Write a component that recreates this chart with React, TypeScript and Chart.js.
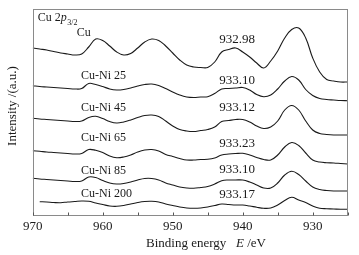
import { useEffect, useRef } from "react";
import { Chart, registerables } from "chart.js";

Chart.register(...registerables);

// Binding energy grid (eV), 970 -> 925
const energies = [
  970, 969, 968, 967, 966, 965, 964, 963, 962, 961, 960, 959, 958, 957, 956, 955,
  954, 953, 952, 951, 950, 949, 948, 947, 946, 945, 944, 943, 942, 941, 940, 939,
  938, 937, 936, 935, 934, 933, 932, 931, 930, 929, 928, 927, 926, 925,
];

// Stacked (offset) intensities, a.u.
const cu = [
  168, 167, 166, 164.5, 163, 162, 161, 162, 169, 177, 175.5, 170, 164, 161, 162.5, 168,
  174, 177, 175.5, 170, 163, 156, 151, 149, 148.5, 148.5, 154, 164, 166.5, 168, 164, 159,
  153, 148, 155, 165, 178, 186.5, 188, 178, 158, 144, 136.5, 135, 134, 134,
];
const cuNi25 = [
  130.3, 129.5, 129, 128.5, 128, 127.5, 127, 127.5, 132.5, 131.5, 129.5, 127, 126, 126.5, 128, 130,
  131.5, 132, 130.5, 127.5, 124, 121, 119, 118.5, 119, 119.3, 122.5, 127, 127.5, 128, 128.5, 126,
  121.5, 119.3, 121, 127, 135, 139.5, 136, 126.5, 120.5, 117.5, 116.5, 116, 115.5, 115.3,
];
const cuNi45 = [
  97.7, 97, 96.5, 96, 95.5, 95, 94.5, 95, 98.5, 99.7, 97.5, 94.5, 93, 94, 96, 98.5,
  100.5, 101, 99.5, 95, 90, 86.5, 85, 84.5, 85.5, 86.5, 89, 94.5, 95.5, 96.5, 96.5, 94,
  90, 87.5, 89, 95, 106, 110.5, 106, 95, 86, 82.5, 81.5, 81, 81, 81,
];
const cuNi65 = [
  65.3, 64.7, 64, 63.5, 63, 62.5, 62, 62.5, 66.5, 65.7, 63.5, 60, 58.3, 59, 61, 64,
  66, 66.5, 65, 61.5, 59.5, 57.5, 56, 56, 56.5, 56.7, 58, 61, 62, 62.5, 62.7, 61,
  58.5, 56.5, 56, 61, 69, 73.5, 70.5, 63, 56, 54, 53.3, 53, 52.5, 52,
];
const cuNi85 = [
  37.7, 37, 36.5, 36, 35.5, 35, 34.5, 35, 39, 38.5, 35.5, 33, 32, 32.5, 34, 36,
  37.5, 37.5, 36, 33, 31, 29, 28, 27.7, 28.5, 29.5, 32, 35.3, 36, 36, 36, 34,
  31, 28, 28, 33, 41, 44.8, 41.5, 35, 29, 26.5, 25.5, 25, 25, 25,
];
const cuNi200 = [
  null, 14.3, 14, 13.5, 13.3, 14, 14.5, 15, 14.7, 13, 11.5, 10, 9.7, 10.5, 12, 13.5,
  14.5, 14.7, 14, 12, 10.5, 9, 8, 7.7, 8, 9, 10.5, 12, 11.5, 11, 11, 10,
  8.7, 7.7, 8, 11, 15.5, 18.7, 16, 13.5, 10, 7.7, 7.3, 7, 6.7, 6.7,
];

const seriesNames = ["Cu", "Cu-Ni 25", "Cu-Ni 45", "Cu-Ni 65", "Cu-Ni 85", "Cu-Ni 200"];
const seriesValues = [cu, cuNi25, cuNi45, cuNi65, cuNi85, cuNi200];
const peakLabels = ["932.98", "933.10", "933.12", "933.23", "933.10", "933.17"];
const majorTicks = [970, 960, 950, 940, 930];
const allTicks = [970, 965, 960, 955, 950, 945, 940, 935, 930, 925];

// label anchors in data space (energy, intensity)
const nameAnchorE = [963.7, 963.1, 963.1, 963.1, 963.1, 963.1];
const nameAnchorI = [183, 140, 108, 78, 45.5, 22];
const peakAnchorE = 940.8;
const peakAnchorI = [176, 135.5, 108, 72.7, 46, 21];

const FONT = "'Liberation Serif', 'Times New Roman', serif";
const INK = "#1a1a1a";

const annotations = {
  id: "annotations",
  afterDatasetsDraw(chart: any) {
    const { ctx, chartArea } = chart;
    const xs = chart.scales.x;
    const ys = chart.scales.y;
    const l = Math.round(chartArea.left) + 0.5;
    const t = Math.round(chartArea.top) + 0.5;
    const r = Math.round(chartArea.right) - 0.5;
    const b = Math.round(chartArea.bottom) - 0.5;
    ctx.save();
    // frame
    ctx.strokeStyle = "#8a8a8a";
    ctx.lineWidth = 1;
    ctx.strokeRect(l, t, r - l, b - t);
    // inward ticks
    ctx.strokeStyle = "#555";
    allTicks.forEach((v) => {
      const px = Math.round(xs.getPixelForValue(v)) + 0.5;
      ctx.beginPath();
      ctx.moveTo(px, b);
      ctx.lineTo(px, b - 3);
      ctx.stroke();
    });
    ctx.fillStyle = INK;
    ctx.textBaseline = "middle";
    // sample names
    ctx.font = `12px ${FONT}`;
    ctx.textAlign = "left";
    seriesNames.forEach((n, i) => {
      ctx.fillText(n, xs.getPixelForValue(nameAnchorE[i]), ys.getPixelForValue(nameAnchorI[i]));
    });
    // peak labels
    ctx.font = `13px ${FONT}`;
    ctx.textAlign = "center";
    peakLabels.forEach((p, i) => {
      ctx.fillText(p, xs.getPixelForValue(peakAnchorE), ys.getPixelForValue(peakAnchorI[i]));
    });
    // Cu 2p3/2
    ctx.textAlign = "left";
    let x0 = chartArea.left + 5;
    const y0 = chartArea.top + 9;
    ctx.font = `12px ${FONT}`;
    ctx.fillText("Cu 2", x0, y0);
    x0 += ctx.measureText("Cu 2").width;
    ctx.font = `italic 12px ${FONT}`;
    ctx.fillText("p", x0, y0);
    x0 += ctx.measureText("p").width;
    ctx.font = `8px ${FONT}`;
    ctx.fillText("3/2", x0 + 0.5, y0 + 5);
    // x title
    ctx.font = `13px ${FONT}`;
    const part1 = "Binding energy   ";
    const w1 = ctx.measureText(part1).width;
    ctx.font = `italic 13px ${FONT}`;
    const w2 = ctx.measureText("E").width;
    ctx.font = `13px ${FONT}`;
    const w3 = ctx.measureText(" /eV").width;
    let tx = 206 - (w1 + w2 + w3) / 2;
    const ty = chartArea.bottom + 28;
    ctx.fillText(part1, tx, ty);
    tx += w1;
    ctx.font = `italic 13px ${FONT}`;
    ctx.fillText("E", tx, ty);
    tx += w2;
    ctx.font = `13px ${FONT}`;
    ctx.fillText(" /eV", tx, ty);
    // y title
    ctx.translate(13, 106);
    ctx.rotate(-Math.PI / 2);
    ctx.textAlign = "center";
    ctx.fillText("Intensity /(a.u.)", 0, 0);
    ctx.restore();
  },
};

export default function App() {
  const ref = useRef<HTMLCanvasElement | null>(null);
  useEffect(() => {
    if (!ref.current) return;
    const chart = new Chart(ref.current, {
      type: "line",
      data: {
        labels: energies,
        datasets: seriesValues.map((vals, i) => ({
          label: seriesNames[i],
          data: vals.map((v, j) => ({ x: energies[j], y: v })),
          borderColor: INK,
          borderWidth: 1.1,
          pointRadius: 0,
          tension: 0.4,
          fill: false,
          spanGaps: false,
        })),
      },
      options: {
        animation: false,
        responsive: false,
        layout: { padding: { left: 32.7, right: 11.3, top: 9, bottom: 0 } },
        plugins: { legend: { display: false }, tooltip: { enabled: false } },
        scales: {
          x: {
            type: "linear",
            reverse: true,
            min: 925,
            max: 970,
            afterBuildTicks: (s: any) => {
              s.ticks = allTicks.map((v) => ({ value: v }));
            },
            afterFit: (s: any) => {
              s.height = 39;
            },
            ticks: {
              autoSkip: false,
              maxRotation: 0,
              padding: 3,
              color: INK,
              font: { family: FONT, size: 13 },
              callback: (v: any) => (majorTicks.includes(Number(v)) ? String(v) : ""),
            },
            grid: { display: false, drawTicks: false, tickLength: 0 },
            border: { display: false },
          },
          y: { display: false, min: 0, max: 207 },
        },
      },
      plugins: [annotations],
    });
    return () => chart.destroy();
  }, []);
  return (
    <div style={{ position: "absolute", left: 0, top: 0, width: 359, height: 255, background: "#fff" }}>
      <canvas ref={ref} width={359} height={255} style={{ display: "block" }} />
    </div>
  );
}
